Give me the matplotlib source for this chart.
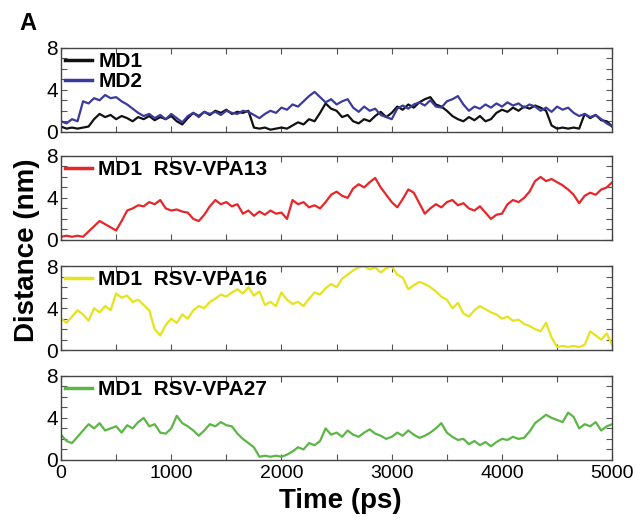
import numpy as np
import matplotlib
matplotlib.use('Agg')
import matplotlib.pyplot as plt
from matplotlib.ticker import MultipleLocator

plt.rcParams['font.family'] = ['Liberation Sans', 'DejaVu Sans']

# distances (nm), sampled every 50 ps from 0 to 5000 ps
md1 = [0.5, 0.3, 0.4, 0.3, 0.4, 0.5, 1.2, 1.7, 1.4, 1.6,
       1.2, 1.5, 1.3, 1.0, 1.4, 1.2, 1.5, 1.1, 1.4, 1.2,
       1.5, 1.0, 0.7, 1.3, 1.8, 1.5, 1.9, 1.6, 2.0, 1.8,
       2.1, 1.7, 1.9, 1.8, 2.0, 0.4, 0.3, 0.4, 0.2, 0.3,
       0.4, 0.3, 0.6, 0.9, 0.7, 1.2, 1.0, 1.8, 2.7, 2.2,
       2.0, 1.4, 1.6, 1.0, 0.8, 1.2, 1.0, 1.5, 1.9, 1.4,
       1.8, 2.4, 2.1, 2.6, 2.3, 2.8, 3.1, 3.3, 2.6, 2.4,
       2.0, 1.5, 1.2, 1.0, 1.4, 1.1, 1.5, 1.0, 1.2, 1.8,
       2.1, 1.9, 2.3, 2.0, 2.4, 2.2, 2.5, 2.3, 2.0, 0.6,
       0.3, 0.4, 0.3, 0.4, 0.3, 1.7, 1.3, 1.6, 1.1, 1.0,
       0.5]

md2 = [1.0, 0.8, 1.2, 1.0, 2.9, 2.7, 3.2, 3.0, 3.5, 3.2,
       3.3, 2.9, 2.6, 2.2, 1.8, 1.5, 1.7, 1.3, 1.6, 1.2,
       1.7, 1.3, 0.9, 1.5, 1.8, 1.4, 1.9, 1.7, 1.9, 1.6,
       2.0, 1.8, 1.7, 2.0, 1.9, 1.6, 1.3, 1.7, 2.0, 1.8,
       2.3, 2.1, 2.6, 2.4, 2.9, 3.4, 3.8, 3.3, 2.8, 3.1,
       2.6, 2.9, 3.1, 2.3, 1.9, 2.4, 2.0, 2.2, 1.6, 1.4,
       1.2, 2.2, 2.5, 2.2, 2.6, 2.8, 2.5, 3.0, 2.4, 2.3,
       2.9, 3.1, 3.4, 2.6, 2.0, 2.4, 2.2, 2.6, 2.3, 2.7,
       2.4, 2.8, 2.5, 2.7, 2.3, 2.6, 2.4, 2.0, 2.3, 1.9,
       2.4, 2.1, 2.3, 1.8, 1.5, 1.7, 1.4, 1.6, 1.2, 0.8,
       0.5]

vpa13 = [0.3, 0.4, 0.3, 0.4, 0.3, 0.8, 1.3, 1.8, 1.5, 1.2,
         0.9, 1.8, 2.8, 3.0, 3.3, 3.2, 3.6, 3.4, 3.8, 3.0,
         2.8, 2.9, 2.7, 2.6, 2.0, 1.8, 2.4, 3.2, 3.8, 3.4,
         3.6, 3.2, 3.4, 2.5, 2.8, 2.3, 2.7, 2.4, 2.8, 2.5,
         2.6, 2.0, 3.8, 3.4, 3.6, 3.1, 3.3, 3.0, 3.6, 4.3,
         4.6, 4.2, 4.0, 4.9, 5.3, 5.0, 5.5, 5.9, 5.0, 4.3,
         3.6, 3.1, 3.9, 4.8, 4.5, 3.5, 2.5, 3.0, 3.4, 3.1,
         3.6, 3.8, 3.3, 3.5, 3.0, 2.8, 3.2, 2.6, 2.0, 2.4,
         2.5, 3.4, 3.8, 3.6, 4.0, 4.6, 5.6, 6.0, 5.6, 5.8,
         5.5, 5.2, 4.8, 4.3, 3.5, 4.2, 4.5, 4.3, 4.8, 5.0,
         5.5]

vpa16 = [3.0, 2.6, 3.2, 3.8, 3.4, 2.8, 4.0, 3.6, 4.2, 3.8,
         5.4, 5.0, 5.2, 4.6, 4.8, 4.3, 3.8, 2.0, 1.4, 2.4,
         3.0, 2.6, 3.4, 3.0, 3.8, 4.2, 4.0, 4.6, 4.9, 5.3,
         5.1, 5.5, 5.8, 5.4, 6.0, 5.2, 5.6, 4.3, 4.6, 4.2,
         5.5, 4.8, 4.4, 4.6, 4.2, 4.9, 5.5, 5.3, 5.9, 6.3,
         6.0, 6.8, 7.2, 7.6, 7.9, 8.0, 7.7, 7.9, 7.4, 7.8,
         8.0, 7.2, 6.9, 5.8, 6.2, 6.5, 6.3, 6.0, 5.6, 5.1,
         4.8, 4.0, 4.5, 3.5, 3.2, 3.8, 4.2, 3.9, 3.6, 3.4,
         3.0, 3.2, 2.8, 2.9, 2.5, 2.3, 2.0, 1.8, 2.6, 1.2,
         0.3, 0.4, 0.3, 0.4, 0.3, 0.5, 1.8, 1.4, 1.0, 1.6,
         0.5]

vpa27 = [2.4, 1.8, 1.6, 2.2, 2.8, 3.4, 3.0, 3.5, 2.8, 3.0,
         3.2, 2.6, 3.3, 3.0, 3.6, 4.0, 3.2, 3.4, 2.6, 2.5,
         3.0, 4.2, 3.5, 3.2, 2.8, 2.3, 2.8, 3.4, 3.2, 3.6,
         3.3, 3.2, 2.5, 2.0, 1.6, 1.2, 0.3, 0.4, 0.3, 0.4,
         0.3, 0.5, 0.8, 1.2, 1.0, 1.6, 1.4, 1.8, 3.0, 2.4,
         2.6, 2.2, 2.8, 2.4, 2.2, 2.6, 2.9, 2.5, 2.3, 2.0,
         2.2, 2.6, 2.3, 2.8, 2.4, 2.1, 2.3, 2.6, 3.0, 3.5,
         2.6, 2.2, 1.9, 2.0, 1.5, 1.8, 1.4, 1.7, 1.3, 1.7,
         2.0, 1.9, 2.2, 2.0, 2.1, 2.7, 3.5, 3.9, 4.3, 4.0,
         3.8, 3.6, 4.5, 4.1, 3.0, 3.4, 3.2, 3.6, 2.8, 3.2,
         3.4]

panels = [
    [('MD1', md1, '#111111'), ('MD2', md2, '#3b3b9e')],
    [('MD1  RSV-VPA13', vpa13, '#e8262a')],
    [('MD1  RSV-VPA16', vpa16, '#e6e21c')],
    [('MD1  RSV-VPA27', vpa27, '#5cb646')],
]

fig = plt.figure(figsize=(6.38, 5.25), dpi=100)
bottoms = [0.749, 0.543, 0.333, 0.124]
height = 0.16

for k, series in enumerate(panels):
    ax = fig.add_axes([0.0956, bottoms[k], 0.864, height])
    for label, vals, col in series:
        t = np.linspace(0, 5000, len(vals))
        ax.plot(t, vals, color=col, lw=1.6, label=label)
    ax.set_xlim(0, 5000)
    ax.set_ylim(0, 8)
    ax.set_yticks([0, 4, 8])
    ax.yaxis.set_minor_locator(MultipleLocator(1))
    ax.xaxis.set_major_locator(MultipleLocator(1000))
    ax.xaxis.set_minor_locator(MultipleLocator(500))
    ax.tick_params(which='both', direction='in', top=True, right=True,
                   length=4, width=0.8, color='#555555', labelsize=15)
    for sp in ax.spines.values():
        sp.set_color('#444444')
        sp.set_linewidth(1.0)
    if k < 3:
        ax.tick_params(labelbottom=False)
    else:
        ax.tick_params(axis='x', labelsize=14, pad=4)
    ax.tick_params(axis='y', pad=2)
    leg = ax.legend(loc='upper left', frameon=False, handlelength=1.3,
                    handletextpad=0.3, borderaxespad=0.1, borderpad=0.1,
                    labelspacing=0.05, prop={'weight': 'bold', 'size': 15})
    for h in leg.get_lines():
        h.set_linewidth(2.5)

fig.text(0.042, 0.524, 'Distance (nm)', rotation=90, ha='center', va='center',
         fontsize=20, fontweight='bold')
fig.text(0.533, 0.046, 'Time (ps)', ha='center', va='center',
         fontsize=20, fontweight='bold')
fig.text(0.03, 0.955, 'A', ha='left', va='center', fontsize=17, fontweight='bold')

fig.savefig('out.png', dpi=100)
